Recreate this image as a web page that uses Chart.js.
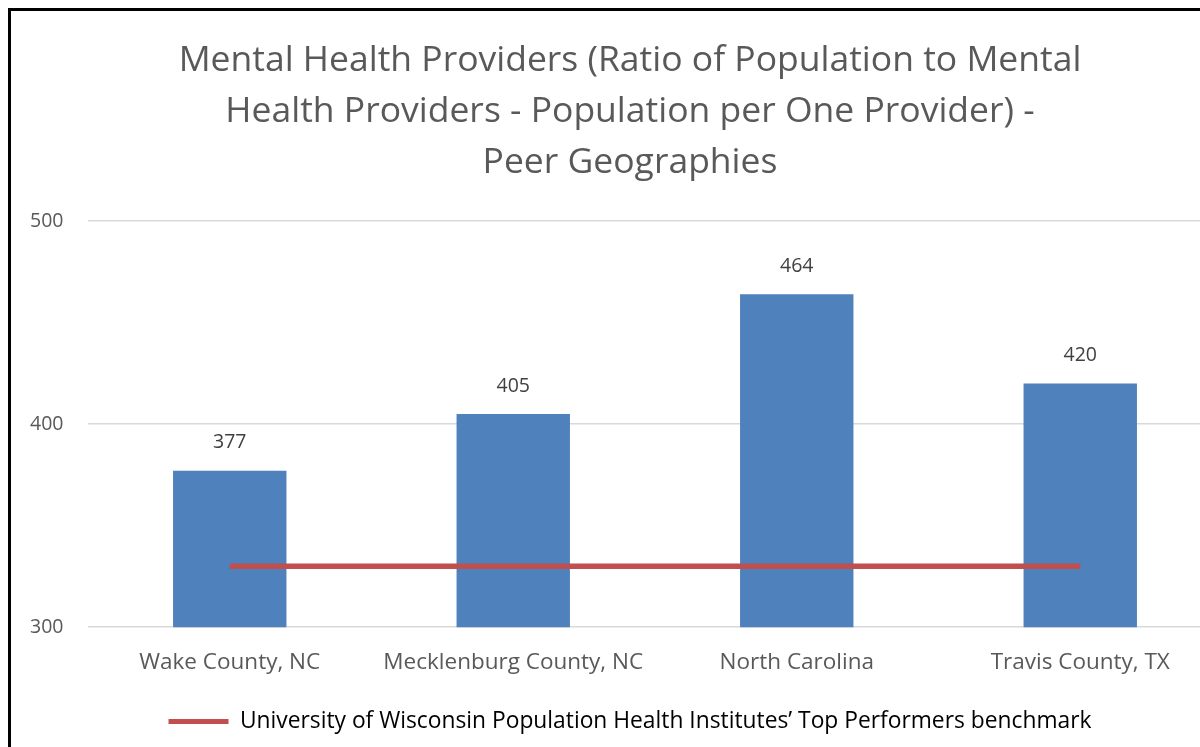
<!DOCTYPE html>
<html>
<head>
<meta charset="utf-8">
<script src="https://cdn.jsdelivr.net/npm/chart.js@4"></script>
<style>
  html, body { margin: 0; padding: 0; background: #fff; overflow: hidden; width: 1200px; height: 747px; }
  #frame { position: absolute; left: 8px; top: 8px; width: 1260px; height: 760px; border-left: 3px solid #000; border-top: 3px solid #000; }
  #wrap { position: absolute; left: 11px; top: 11px; width: 1240px; height: 736px; }
</style>
</head>
<body>
<div id="frame"></div>
<div id="wrap"><canvas id="c" width="1240" height="736"></canvas></div>
<script>
const titleLines = [
  "Mental Health Providers (Ratio of Population to Mental",
  "Health Providers - Population per One Provider) -",
  "Peer Geographies"
];
const categories = ["Wake County, NC", "Mecklenburg County, NC", "North Carolina", "Travis County, TX"];
const providerRatio = [377, 405, 464, 420];
const benchmark = [330, 330, 330, 330];
const benchmarkLabel = "University of Wisconsin Population Health Institutes\u2019 Top Performers benchmark";
const yTicks = [300, 400, 500];

const FONT = "'Open Sans', sans-serif";
const GREY = "#595959";

const dataLabels = {
  id: "dataLabels",
  afterDatasetsDraw(chart) {
    const ctx = chart.ctx;
    const meta = chart.getDatasetMeta(0);
    ctx.save();
    ctx.font = "19.5px " + FONT;
    ctx.fillStyle = "#404040";
    ctx.textAlign = "center";
    ctx.textBaseline = "middle";
    meta.data.forEach((bar, i) => {
      ctx.fillText(String(providerRatio[i]), bar.x, bar.y - 28);
    });
    ctx.restore();
  }
};

new Chart(document.getElementById("c"), {
  data: {
    labels: categories,
    datasets: [
      {
        type: "bar",
        label: "Ratio",
        data: providerRatio,
        backgroundColor: "#4f81bd",
        barPercentage: 0.4,
        categoryPercentage: 1.0,
        order: 1
      },
      {
        type: "line",
        label: benchmarkLabel,
        data: benchmark,
        borderColor: "#c0504d",
        backgroundColor: "#c0504d",
        borderWidth: 5.5,
        pointRadius: 0,
        tension: 0,
        order: 0
      }
    ]
  },
  options: {
    responsive: false,
    animation: false,
    layout: { padding: { left: 27, right: 29, top: 0, bottom: 4 } },
    plugins: {
      tooltip: { enabled: false },
      title: {
        display: true,
        text: titleLines,
        color: GREY,
        font: { family: FONT, size: 35.5, weight: "normal", lineHeight: 1.437 },
        padding: { top: 24, bottom: 33 }
      },
      legend: {
        display: true,
        position: "bottom",
        labels: {
          color: GREY,
          font: { family: FONT, size: 22.8 },
          boxWidth: 60,
          boxHeight: 5,
          padding: 10,
          generateLabels: () => [{
            text: benchmarkLabel,
            fillStyle: "#c0504d",
            strokeStyle: "#c0504d",
            lineWidth: 0,
            hidden: false,
            datasetIndex: 1
          }]
        }
      }
    },
    scales: {
      x: {
        grid: { display: false },
        border: { display: false },
        ticks: { color: GREY, font: { family: FONT, size: 22.5 }, padding: 14 },
        afterFit: (axis) => { axis.height = 73; }
      },
      y: {
        min: 300,
        max: 500,
        afterBuildTicks: (axis) => { axis.ticks = yTicks.map(v => ({ value: v })); },
        afterFit: (axis) => { axis.width = 50; },
        grid: { color: "#d9d9d9", lineWidth: 1.5, drawTicks: false },
        border: { display: false },
        ticks: { color: GREY, font: { family: FONT, size: 19.5 }, mirror: true, padding: -58 }
      }
    }
  },
  plugins: [dataLabels]
});
</script>
</body>
</html>
